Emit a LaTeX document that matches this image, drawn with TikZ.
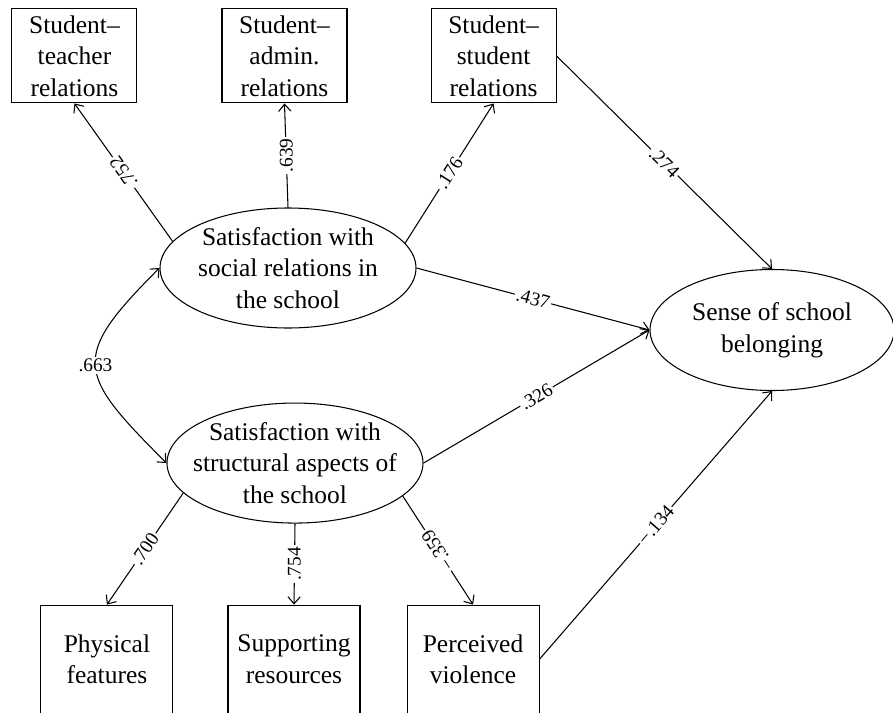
\documentclass[tikz,border=0pt]{standalone}
\usepackage{fontspec}
\setmainfont{Liberation Serif}
\usetikzlibrary{
  shapes.geometric,
  positioning,
  arrows.meta}
\tikzset{
  path_arrow/.style={->, >={Straight Barb[length=4pt, width=7pt]}, line width=0.6pt}
}
\tikzset{
  %% indicator : an observed variable
  indicator/.style={
    rectangle,
    draw=black,
    line width=0.6pt,
    minimum width=2.5cm,
    minimum height=1.88cm,
    inner sep=0pt,
    align=center,
    font=\fontsize{14.5}{18}\selectfont
  },
  %% lowindicator : the taller boxes in the bottom row
  lowindicator/.style={
    indicator,
    minimum width=2.64cm,
    minimum height=2.16cm
  },
  %% latent : a latent variable
  %%      (negative inner sep keeps the ellipse at its minimum size)
  latent/.style={
    ellipse,
    draw=black,
    line width=0.6pt,
    minimum width=5.12cm,
    minimum height=2.4cm,
    inner xsep=-0.3cm,
    inner ysep=-0.2cm,
    align=center,
    font=\fontsize{14.5}{18}\selectfont
  },
  %% weight : a path coefficient, sits on its line
  weight/.style={
    fill=white,
    inner sep=1pt,
    font=\fontsize{11}{13}\selectfont
  }
}

\begin{document}
\begin{tikzpicture}
  [x=1cm,
  y=-1cm,
  align=center]

  \useasboundingbox (0, 0) rectangle (17.86, 14.26);

  %% Latent variables
  \node (social) [latent] at (5.76, 5.36) {%
    Satisfaction with\\social relations in\\the school
  };

  \node (structural) [below=1.48cm of social, xshift=0.14cm, latent]{%
    Satisfaction with\\structural aspects of\\the school
  };

  \node (belonging) [right=4.66cm of social, yshift=-1.24cm, latent,
    minimum width=4.88cm, minimum height=2.42cm]{%
    Sense of school\\belonging
  };

  %% Indicators of social relations
  \node (admin) [above=2.08cm of social, xshift=-0.07cm, indicator]{%
    Student\textendash\\admin.\\relations
  };

  \node (teacher) [left=1.68cm of admin, indicator]{%
    Student\textendash\\teacher\\relations
  };

  \node (peers) [right=1.66cm of admin, indicator]{%
    Student\textendash\\student\\relations
  };

  %% Indicators of structural aspects
  \node (resources) [below=1.62cm of structural, xshift=-0.02cm, lowindicator]{%
    Supporting\\resources
  };

  \node (physical) [left=1.08cm of resources, lowindicator]{%
    Physical\\features
  };

  \node (violence) [right=0.92cm of resources, lowindicator]{%
    Perceived\\violence
  };

  %% Loadings
  \draw [path_arrow] (social.167) -- node [weight, sloped, rotate=180] {.752} (teacher.south);
  \draw [path_arrow] (social.north) -- node [weight, rotate=90] {.639} (admin.south);
  \draw [path_arrow] (social.12.5) -- node [weight, sloped] {.176} (peers.south);
  \draw [path_arrow] (structural.195) -- node [weight, sloped] {.700} (physical.north);
  \draw [path_arrow] (structural.south) -- node [weight, rotate=90] {.754} (resources.north);
  \draw [path_arrow] (structural.343) -- node [weight, sloped, rotate=180] {−.359} (violence.north);

  %% Paths to belonging
  \draw [path_arrow] (peers.east) -- node [weight, sloped] {.274} (belonging.north);
  \draw [path_arrow] (social.east) -- node [weight, sloped] {.437} (belonging.west);
  \draw [path_arrow] (structural.east) -- node [weight, sloped] {.326} (belonging.west);
  \draw [path_arrow] (violence.east) -- node [weight, sloped] {−.134} (belonging.south);

  %% Correlation
  \draw [path_arrow, <->] (social.west) .. controls +(-1.8, 1.8) and +(-1.8, -1.8) ..
    node [weight] {.663} (structural.west);

\end{tikzpicture}
\end{document}
